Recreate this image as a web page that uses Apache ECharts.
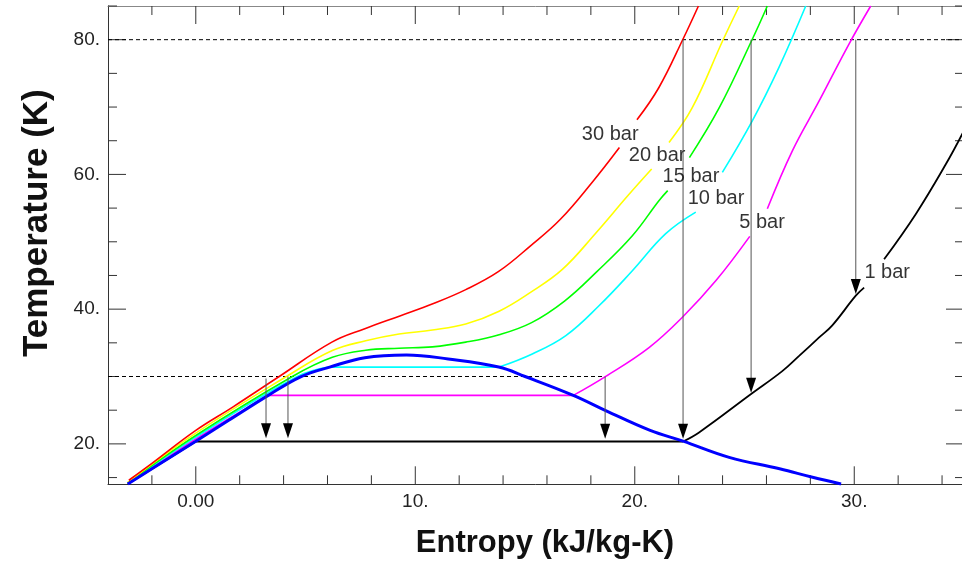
<!DOCTYPE html>
<html>
<head>
<meta charset="utf-8">
<script src="https://cdn.jsdelivr.net/npm/echarts@6/dist/echarts.min.js"></script>
<style>
  html, body { margin: 0; padding: 0; background: #fff; overflow: hidden; }
  #chart { width: 962px; height: 561px; }
</style>
</head>
<body>
<div id="chart"></div>
<script>
// axis ranges and ticks
const xMin = -4, xMax = 35;
const yMin = 14, yMax = 85;
const xTicks = [-2, 0, 2, 4, 6, 8, 10, 12, 14, 16, 18, 20, 22, 24, 26, 28, 30, 32, 34];
const yTicks = [15, 20, 25, 30, 35, 40, 45, 50, 55, 60, 65, 70, 75, 80, 85];
const xLabels = { 0: "0.00", 10: "10.", 20: "20.", 30: "30." };
const yLabels = { 20: "20.", 40: "40.", 60: "60.", 80: "80." };

// saturation dome (entropy, temperature)
const satDome = [[[-3.1, 14.05], [-2, 16.3], [0, 20.4], [1.5, 23.5], [3.3, 27.2], [4.8, 30.0],
  [6.1, 31.4], [7.7, 32.8], [9.6, 33.2], [11.5, 32.6], [13.8, 31.4], [15.0, 30.0], [17.2, 27.2],
  [18.7, 24.9], [20.7, 22.0], [22.2, 20.4], [24.3, 18.0], [26.6, 16.3], [28.1, 15.05], [29.4, 14.05]]];

// isobars, split into pieces at the dome corners and at the label gaps
const bar30 = [
  [[-3.05, 14.6], [-2, 17.1], [0, 22.0], [1.7, 25.5], [3.8, 30.0], [6.2, 35.1], [7.7, 37.1],
   [9.3, 39.0], [10.8, 40.8], [12.3, 42.9], [13.8, 45.6], [15.25, 49.4], [16.6, 53.3], [18.1, 59.0],
   [19.3, 64.0]],
  [[20.1, 68.1], [21.1, 72.9], [22.2, 80.1], [22.9, 85]]];
const bar20 = [
  [[-3.1, 14.3], [0, 21.6], [4.13, 30], [6.22, 33.85], [7.74, 35.3], [9.26, 36.3],
   [10.78, 36.9], [12.3, 37.8], [13.82, 39.7], [15.25, 42.5], [16.7, 45.9], [18.2, 51.2], [19.7, 56.9],
   [20.77, 60.8]],
  [[21.56, 64.75], [22.62, 69.9], [24.0, 79.8], [24.76, 85]]];
const bar15 = [
  [[-3.1, 14.2], [0, 21.25], [4.4, 30], [6.22, 32.85], [7.74, 33.9], [9.26, 34.2],
   [10.78, 34.4], [12.3, 35.1], [13.82, 36.2], [15.3, 38.0], [16.8, 41.2], [18.25, 45.5], [19.89, 50.9],
   [21.1, 56.1], [21.5, 57.6]],
  [[22.49, 62.5], [23.85, 69.9], [25.36, 80.1], [26.04, 85]]];
const bar10 = [
  [[-3.1, 14.1], [0, 21.0], [4.63, 30], [6.07, 31.4]],
  [[6.07, 31.4], [13.82, 31.4]],
  [[13.82, 31.4], [15.33, 33.35], [16.86, 36.07], [18.37, 40.5], [19.89, 45.7], [21.41, 51.2], [22.78, 54.4]],
  [[23.99, 60.3], [25.36, 68.0], [26.57, 75.9], [27.79, 85]]];
const bar5 = [
  [[-3.1, 14.05], [0, 20.74], [3.3, 27.2]],
  [[3.3, 27.2], [17.2, 27.2]],
  [[17.2, 27.2], [18.68, 30.03], [20.65, 34.3], [22.17, 38.8], [23.69, 44.2], [25.24, 50.8]],
  [[26.04, 54.9], [27.18, 63.5], [28.4, 70.9], [29.76, 79.35], [30.75, 85]]];
const bar1 = [
  [[-3.1, 14.05], [0, 20.35]],
  [[0, 20.35], [22.2, 20.35]],
  [[22.2, 20.35], [22.93, 21.7], [25.3, 27.4], [26.72, 30.8], [27.5, 33.1], [28.4, 35.8], [29.0, 37.6],
   [30.07, 42.0], [30.45, 43.2]],
  [[31.36, 47.4], [32.8, 54.1], [34.17, 61.5], [35, 66.5]]];

// isobar labels
const barNames = ["30 bar", "20 bar", "15 bar", "10 bar", "5 bar", "1 bar"];
const barLabelX = [18.88, 21.02, 22.56, 23.7, 25.8, 31.5];
const barLabelY = [66.0, 62.8, 59.7, 56.4, 52.8, 45.4];

// dashed reference lines
const dash80 = [[-4, 80], [35, 80]];
const dash30 = [[-4, 30], [18.65, 30]];

// expansion arrows: entropy, start T, tip T
const arrowX = [3.2, 4.2, 18.65, 22.2, 25.3, 30.07];
const arrowFrom = [29.7, 30, 30, 80, 80, 80];
const arrowTo = [20.85, 20.85, 20.75, 20.75, 27.6, 42.25];

const font = "'Liberation Sans', Arial, sans-serif";
const chart = echarts.init(document.getElementById("chart"));

// one smooth line series per piece
const curve = (pieces, color, width, z) => pieces.map((piece) => ({
  type: "line",
  data: piece,
  showSymbol: false,
  symbol: "none",
  smooth: 0.4,
  lineStyle: { color: color, width: width },
  z: z,
  silent: true,
}));

const tickSeries = {
  type: "custom",
  silent: true,
  clip: false,
  data: xTicks.map((v) => [v, yMin]).concat(yTicks.map((v) => [xMin, v])),
  renderItem: function (params, api) {
    const isX = params.dataIndex < xTicks.length;
    const v = isX ? api.value(0) : api.value(1);
    const style = { stroke: "#333", lineWidth: 1 };
    if (isX) {
      const len = v % 10 === 0 ? 18 : 9;
      const b = api.coord([v, yMin]);
      const t = api.coord([v, yMax]);
      return {
        type: "group",
        children: [
          { type: "line", shape: { x1: b[0], y1: b[1], x2: b[0], y2: b[1] - len }, style: style },
          { type: "line", shape: { x1: t[0], y1: t[1], x2: t[0], y2: t[1] + len }, style: style },
        ],
      };
    }
    const len = v % 20 === 0 ? 18 : 9;
    const l = api.coord([xMin, v]);
    const r = api.coord([xMax, v]);
    return {
      type: "group",
      children: [
        { type: "line", shape: { x1: l[0], y1: l[1], x2: l[0] + len, y2: l[1] }, style: style },
        { type: "line", shape: { x1: r[0], y1: r[1], x2: r[0] - len, y2: r[1] }, style: style },
      ],
    };
  },
  z: 1,
};

const arrowSeries = {
  type: "custom",
  silent: true,
  data: arrowX.map((x, i) => [x, arrowFrom[i], arrowTo[i]]),
  encode: { x: 0, y: [1, 2] },
  renderItem: function (params, api) {
    const p0 = api.coord([api.value(0), api.value(1)]);
    const p1 = api.coord([api.value(0), api.value(2)]);
    return {
      type: "group",
      children: [
        { type: "line", shape: { x1: p0[0], y1: p0[1], x2: p1[0], y2: p1[1] - 12 },
          style: { stroke: "#555", lineWidth: 1 } },
        { type: "polygon", shape: { points: [[p1[0] - 5, p1[1] - 15], [p1[0] + 5, p1[1] - 15], [p1[0], p1[1]]] },
          style: { fill: "#000" } },
      ],
    };
  },
  z: 5,
};

const option = {
  backgroundColor: "#fff",
  animation: false,
  grid: { left: 108, top: 6, width: 856, height: 478.3, outerBoundsMode: "none", containLabel: false },
  xAxis: [
    {
      type: "value", min: xMin, max: xMax, interval: 2,
      name: "Entropy (kJ/kg-K)", nameLocation: "middle", nameGap: 44,
      nameTextStyle: { fontFamily: font, fontSize: 31, fontWeight: "bold", color: "#111", padding: [0, 0, 0, 18] },
      axisLine: { onZero: false, lineStyle: { color: "#333", width: 1 } },
      axisTick: { show: false },
      splitLine: { show: false },
      axisLabel: {
        margin: 8, fontFamily: font, fontSize: 19, color: "#222",
        formatter: (v) => xLabels[v] || "",
      },
    },
    {
      type: "value", position: "top", min: xMin, max: xMax, interval: 2,
      axisLine: { onZero: false, lineStyle: { color: "#888", width: 1 } },
      axisTick: { show: false }, axisLabel: { show: false }, splitLine: { show: false },
    },
  ],
  yAxis: [
    {
      type: "value", min: yMin, max: yMax, interval: 2,
      name: "Temperature (K)", nameLocation: "middle", nameGap: 53, nameRotate: 90,
      nameTextStyle: { fontFamily: font, fontSize: 35, fontWeight: "bold", color: "#111", padding: [0, 0, 0, 44] },
      axisLine: { onZero: false, lineStyle: { color: "#333", width: 1 } },
      axisTick: { show: false },
      splitLine: { show: false },
      axisLabel: {
        margin: 8, fontFamily: font, fontSize: 19, color: "#222",
        formatter: (v) => yLabels[v] || "",
      },
    },
    {
      type: "value", position: "right", min: yMin, max: yMax, interval: 2,
      axisLine: { onZero: false, lineStyle: { color: "#888", width: 1 } },
      axisTick: { show: false }, axisLabel: { show: false }, splitLine: { show: false },
    },
  ],
  series: [
    tickSeries,
    {
      type: "line", data: dash80, showSymbol: false, symbol: "none", silent: true,
      lineStyle: { color: "#000", width: 1, type: [4, 3] }, z: 2,
    },
    {
      type: "line", data: dash30, showSymbol: false, symbol: "none", silent: true,
      lineStyle: { color: "#000", width: 1, type: [4, 3] }, z: 2,
    },
    ...curve(bar1, "#000000", 1.8, 3),
    ...curve(bar5, "#ff00ff", 1.6, 3),
    ...curve(bar10, "#00ffff", 1.6, 3),
    ...curve(bar15, "#00ff00", 1.6, 3),
    ...curve(bar20, "#ffff00", 1.6, 3),
    ...curve(bar30, "#ff0000", 1.6, 3),
    ...curve(satDome, "#0000ff", 3, 4),
    arrowSeries,
    {
      type: "scatter",
      silent: true,
      symbolSize: 1,
      itemStyle: { color: "rgba(0,0,0,0)" },
      data: barNames.map((n, i) => ({ name: n, value: [barLabelX[i], barLabelY[i]] })),
      label: {
        show: true, position: "inside", formatter: (p) => p.name,
        fontFamily: font, fontSize: 20, color: "#000",
      },
      z: 6,
    },
  ],
};
chart.setOption(option);
</script>
</body>
</html>
